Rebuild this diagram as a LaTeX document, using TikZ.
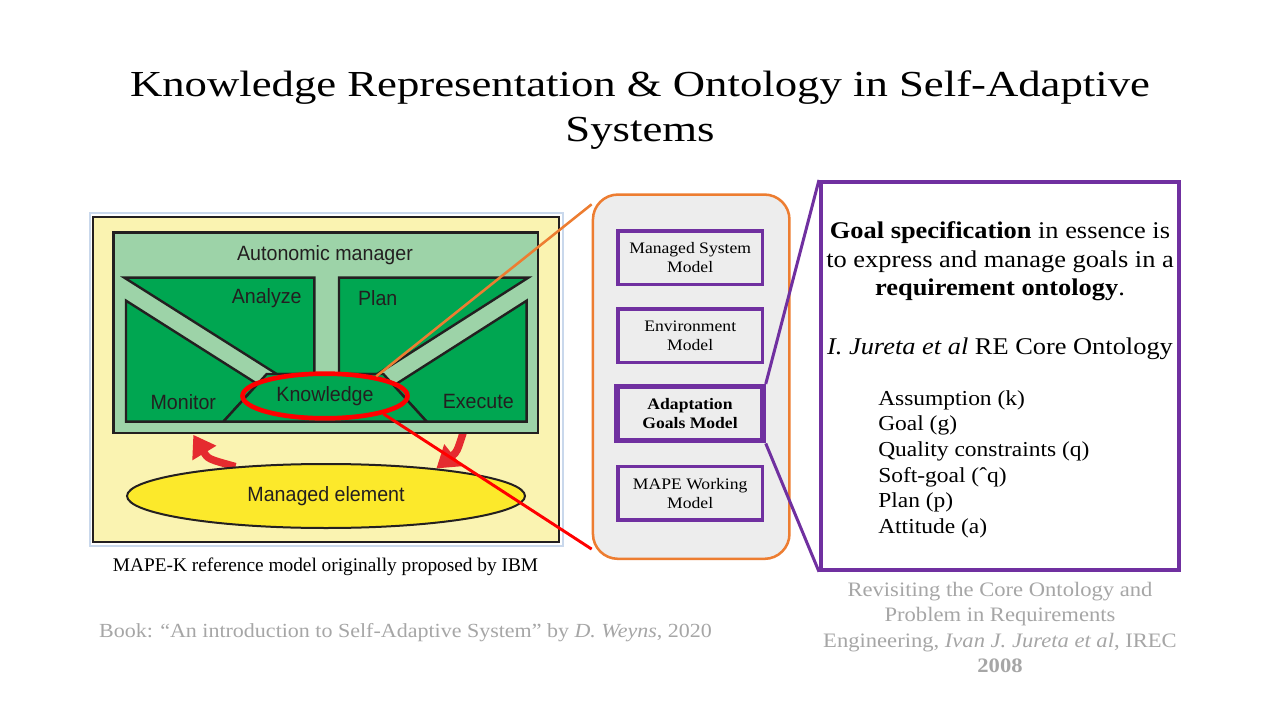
\documentclass[tikz,border=0pt]{standalone}
\usepackage{fontspec}
\setmainfont[FakeStretch=1.1]{Liberation Serif}
\newfontfamily\capfont{Liberation Serif}
\newfontfamily\titlefont[FakeStretch=1.22]{Liberation Serif}
\newfontfamily\mapefont[FakeStretch=0.95]{Liberation Sans}
\usetikzlibrary{arrows.meta,shapes.geometric}
\definecolor{ybg}{HTML}{FAF3B1}
\definecolor{lblue}{HTML}{C9D8EC}
\definecolor{lgreen}{HTML}{9DD3A8}
\definecolor{mgreen}{HTML}{00A651}
\definecolor{dk}{HTML}{231F20}
\definecolor{yell}{HTML}{FCE92B}
\definecolor{rarrow}{HTML}{E52B2F}
\definecolor{orng}{HTML}{ED7D31}
\definecolor{purp}{HTML}{7030A0}
\definecolor{lgray}{HTML}{EDEDED}
\definecolor{gtext}{HTML}{A6A6A6}
\pgfdeclarelayer{back}
\pgfdeclarelayer{arrowlayer}
\pgfsetlayers{back,arrowlayer,main}
\begin{document}
\begin{tikzpicture}[x=0.75pt,y=-0.75pt,
  mshape/.style={fill=mgreen, draw=dk, line width=1.8pt, line join=miter},
  mlabel/.style={font=\mapefont\fontsize{15.5}{18}\selectfont, text=dk, inner sep=0pt},
  pbox/.style={draw=purp, line width=2.6pt, fill=lgray, minimum width=108.6pt, minimum height=39.9pt, inner sep=0pt, align=center, font=\fontsize{12}{14}\selectfont},
  rarr/.style={draw=rarrow, line width=5.6pt, -{Triangle[length=16pt,width=20pt]}},
  gtxt/.style={text=gtext, inner sep=0pt}]
\useasboundingbox (0,0) rectangle (1280,720);

% title
\node[font=\titlefont\fontsize{27.5}{33.75}\selectfont, align=center, inner sep=0pt] (title) at (640,110.5)
  {Knowledge Representation \& Ontology in Self-Adaptive\\Systems};

% ---------- MAPE-K figure ----------
\begin{pgfonlayer}{back}
\fill[white] (0,0) rectangle (1280,720);
\draw[lblue, line width=1.5pt] (89.5,213) rectangle (562.5,545.5);
\filldraw[fill=ybg, draw=dk, line width=1.8pt] (93,217) rectangle (559,542);
\end{pgfonlayer}
\filldraw[fill=lgreen, draw=dk, line width=1.8pt] (113.3,232.7) rectangle (537.7,432.7);
\filldraw[mshape] (124.33,277.67) -- (314.33,277.67) -- (314.33,374) -- (276.67,374) -- cycle;
\filldraw[mshape] (339,277.67) -- (528.33,277.67) -- (377.33,374) -- (339,374) -- cycle;
\filldraw[mshape] (126,300.67) -- (257.53,384.07) -- (223.33,421.67) -- (126,421.67) -- cycle;
\filldraw[mshape] (526.67,300.67) -- (526.67,421.67) -- (426.67,421.67) -- (393.77,385.47) -- cycle;
\filldraw[mshape] (223.33,421.67) -- (266.67,374) -- (383.33,374) -- (426.67,421.67) -- cycle;

\node[mlabel] (am) at (325,255) {Autonomic manager};
\node[mlabel] (an) at (266.7,298.3) {Analyze};
\node[mlabel] (pl) at (377.7,298.3) {Plan};
\node[mlabel] (mo) at (183.3,401.7) {Monitor};
\node[mlabel] (ex) at (478.3,401.7) {Execute};
\node[ellipse, draw=red, line width=3.5pt, minimum width=123.75pt, minimum height=33.5pt, mlabel] (kell) at (325,396) {Knowledge};

\node[ellipse, draw=dk, fill=yell, line width=1.5pt, minimum width=298.5pt, minimum height=48pt, mlabel] (me) at (326,496) {Managed element};

\coordinate (mtip) at (193.3,434.8);
\coordinate (estart) at (464,430);
\begin{pgfonlayer}{arrowlayer}
\draw[rarr] (me.162) .. controls (208,459) .. (mtip);
\draw[rarr] (estart) .. controls (457,452) .. (me.14);
\end{pgfonlayer}

\node[font=\capfont\fontsize{14.5}{16}\selectfont, anchor=base, inner sep=0pt] (cap) at (325.5,571.7)
  {MAPE-K reference model originally proposed by IBM};
\node[gtxt, font=\fontsize{15}{17}\selectfont, anchor=base] (book) at (405.5,637.5)
  {Book: “An introduction to Self-Adaptive System” by \textit{D. Weyns}, 2020};

% ---------- middle box ----------
\node[draw=orng, fill=lgray, line width=1.9pt, rounded corners=18.75pt, minimum width=147.4pt, minimum height=273.2pt, inner sep=0pt] (mbox) at (691.2,376.7) {};
\node[pbox] (b1) at (690.2,257.7) {Managed System\\Model};
\node[pbox] (b2) at (690.2,335.7) {Environment\\Model};
\node[pbox, line width=4.1pt, minimum width=109.5pt, minimum height=40.5pt, font=\bfseries\fontsize{12}{14}\selectfont] (b3) at (690,413.7) {Adaptation\\Goals Model};
\node[pbox] (b4) at (690.2,493.3) {MAPE Working\\Model};

% ---------- right box ----------
\node[draw=purp, line width=3pt, minimum width=268.3pt, minimum height=290.8pt, inner sep=0pt] (rbox) at (999.85,375.85) {};
\node[font=\fontsize{18}{21.5}\selectfont, align=center, inner sep=0pt] (goal) at (1000,261.4)
  {\textbf{Goal specification} in essence is\\to express and manage goals in a\\\textbf{requirement ontology}.};
\node[font=\fontsize{18}{21.5}\selectfont, anchor=base, inner sep=0pt] (jur) at (1000,354)
  {\textit{I. Jureta et al} RE Core Ontology};
\node[font=\fontsize{16}{19.2}\selectfont, align=left, anchor=north west, inner sep=0pt] (list) at (878,390.3)
  {Assumption (k)\\Goal (g)\\Quality constraints (q)\\Soft-goal (ˆq)\\Plan (p)\\Attitude (a)};
\node[gtxt, font=\fontsize{15.4}{19.2}\selectfont, align=center] (ref) at (1000,627.5)
  {Revisiting the Core Ontology and\\Problem in Requirements\\Engineering, \textit{Ivan J. Jureta et al}, IREC\\\textbf{2008}};

% ---------- connectors ----------
\draw[orng, line width=1.9pt] (kell.21) -- (mbox.120);
\draw[red, line width=2.2pt] (kell.-17) -- (mbox.240);
\draw[purp, line width=2.25pt] (b3.north east) -- (rbox.north west);
\draw[purp, line width=2.25pt] (b3.south east) -- (rbox.south west);
\end{tikzpicture}
\end{document}
